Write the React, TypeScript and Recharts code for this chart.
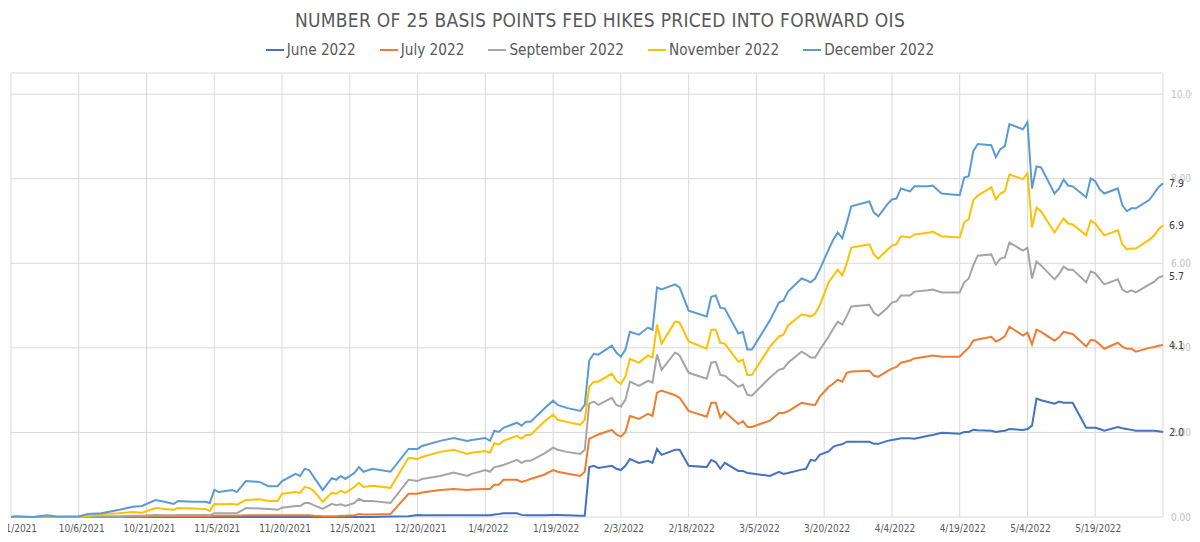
import { LineChart, Line, XAxis, YAxis, CartesianGrid } from "recharts";

const dates = [
  "9/21/2021", "9/22/2021", "9/26/2021", "9/29/2021", "10/1/2021", "10/6/2021", "10/8/2021", "10/11/2021", "10/15/2021", "10/18/2021",
  "10/20/2021", "10/23/2021", "10/25/2021", "10/27/2021", "10/28/2021", "10/31/2021", "11/3/2021", "11/4/2021", "11/5/2021", "11/6/2021",
  "11/9/2021", "11/10/2021", "11/12/2021", "11/15/2021", "11/17/2021", "11/19/2021", "11/20/2021", "11/23/2021", "11/24/2021", "11/25/2021",
  "11/26/2021", "11/27/2021", "11/29/2021", "12/1/2021", "12/2/2021", "12/3/2021", "12/4/2021", "12/6/2021", "12/7/2021", "12/8/2021",
  "12/10/2021", "12/14/2021", "12/18/2021", "12/20/2021", "12/21/2021", "12/25/2021", "12/28/2021", "12/31/2021", "1/1/2022", "1/4/2022",
  "1/5/2022", "1/6/2022", "1/7/2022", "1/8/2022", "1/11/2022", "1/12/2022", "1/13/2022", "1/14/2022", "1/17/2022", "1/19/2022",
  "1/20/2022", "1/22/2022", "1/25/2022", "1/26/2022", "1/27/2022", "1/28/2022", "1/29/2022", "2/1/2022", "2/2/2022", "2/3/2022",
  "2/4/2022", "2/5/2022", "2/7/2022", "2/9/2022", "2/10/2022", "2/11/2022", "2/12/2022", "2/15/2022", "2/16/2022", "2/18/2022",
  "2/22/2022", "2/23/2022", "2/24/2022", "2/25/2022", "2/26/2022", "3/1/2022", "3/2/2022", "3/3/2022", "3/4/2022", "3/8/2022",
  "3/10/2022", "3/11/2022", "3/12/2022", "3/15/2022", "3/16/2022", "3/17/2022", "3/18/2022", "3/19/2022", "3/21/2022", "3/22/2022",
  "3/23/2022", "3/24/2022", "3/25/2022", "3/26/2022", "3/30/2022", "3/31/2022", "4/1/2022", "4/3/2022", "4/4/2022", "4/5/2022",
  "4/6/2022", "4/8/2022", "4/9/2022", "4/12/2022", "4/13/2022", "4/15/2022", "4/19/2022", "4/20/2022", "4/21/2022", "4/22/2022",
  "4/23/2022", "4/26/2022", "4/27/2022", "4/28/2022", "4/29/2022", "4/30/2022", "5/3/2022", "5/4/2022", "5/5/2022", "5/6/2022",
  "5/7/2022", "5/10/2022", "5/11/2022", "5/12/2022", "5/13/2022", "5/14/2022", "5/17/2022", "5/18/2022", "5/19/2022", "5/20/2022",
  "5/21/2022", "5/24/2022", "5/25/2022", "5/26/2022", "5/27/2022", "5/28/2022", "5/31/2022", "6/1/2022", "6/2/2022", "6/3/2022",
];

const june2022 = [
  0, 0, 0, 0, 0, 0, 0, 0, 0, 0,
  0, 0, 0, 0, 0, 0, 0, 0, 0, 0,
  0, 0, 0, 0, 0, 0, 0, 0, 0, 0,
  0, 0, 0, 0, 0, 0, 0, 0, 0, 0,
  0, 0.01, 0.02, 0.05, 0.04, 0.04, 0.04, 0.04, 0.04, 0.04,
  0.04, 0.06, 0.07, 0.09, 0.09, 0.05, 0.04, 0.04, 0.04, 0.05,
  0.05, 0.04, 0.03, 0.03, 1.18, 1.21, 1.16, 1.21, 1.14, 1.11,
  1.21, 1.37, 1.28, 1.33, 1.28, 1.61, 1.47, 1.59, 1.59, 1.21,
  1.18, 1.35, 1.3, 1.14, 1.28, 1.09, 1.09, 1.04, 1.03, 0.97,
  1.07, 1.02, 1.04, 1.12, 1.14, 1.35, 1.33, 1.47, 1.55, 1.66,
  1.7, 1.72, 1.78, 1.78, 1.78, 1.73, 1.73, 1.8, 1.82, 1.84,
  1.86, 1.86, 1.85, 1.92, 1.94, 1.99, 1.97, 2.01, 2.01, 2.06,
  2.05, 2.04, 2.01, 2.03, 2.04, 2.08, 2.06, 2.08, 2.16, 2.8,
  2.76, 2.68, 2.73, 2.7, 2.7, 2.7, 2.11, 2.11, 2.11, 2.08,
  2.04, 2.13, 2.1, 2.08, 2.06, 2.04, 2.04, 2.04, 2.03, 2.01,
];

const july2022 = [
  0, 0, 0, 0, 0, 0, 0, 0, 0, 0.01,
  0.01, 0.02, 0.02, 0.02, 0.02, 0.02, 0.02, 0.02, 0.03, 0.03,
  0.03, 0.03, 0.04, 0.04, 0.04, 0.04, 0.04, 0.04, 0.04, 0.04,
  0.04, 0.03, 0.02, 0.02, 0.02, 0.03, 0.03, 0.04, 0.07, 0.06,
  0.06, 0.07, 0.55, 0.55, 0.58, 0.64, 0.66, 0.64, 0.65, 0.66,
  0.66, 0.76, 0.76, 0.88, 0.88, 0.83, 0.86, 0.9, 1.0, 1.11,
  1.07, 1.03, 0.97, 1.07, 1.85, 1.9, 1.95, 2.06, 1.95, 1.9,
  2.01, 2.39, 2.32, 2.44, 2.39, 2.94, 2.99, 2.88, 2.82, 2.51,
  2.37, 2.7, 2.7, 2.35, 2.49, 2.2, 2.27, 2.13, 2.13, 2.28,
  2.46, 2.46, 2.5, 2.7, 2.68, 2.66, 2.65, 2.84, 3.08, 3.15,
  3.25, 3.2, 3.41, 3.44, 3.46, 3.34, 3.32, 3.45, 3.51, 3.55,
  3.65, 3.7, 3.75, 3.8, 3.82, 3.79, 3.79, 3.9, 4.0, 4.17,
  4.2, 4.26, 4.15, 4.2, 4.27, 4.5, 4.29, 4.36, 4.08, 4.43,
  4.38, 4.17, 4.25, 4.38, 4.35, 4.33, 4.03, 4.19, 4.17, 4.08,
  3.98, 4.12, 4.03, 3.98, 3.98, 3.91, 4.0, 4.02, 4.05, 4.07,
];

const september2022 = [
  0, 0, 0, 0.01, 0, 0, 0.01, 0.02, 0.02, 0.03,
  0.03, 0.05, 0.04, 0.04, 0.05, 0.05, 0.05, 0.04, 0.09, 0.09,
  0.09, 0.09, 0.21, 0.2, 0.19, 0.17, 0.22, 0.26, 0.26, 0.33,
  0.33, 0.28, 0.19, 0.31, 0.28, 0.3, 0.26, 0.33, 0.43, 0.38,
  0.38, 0.33, 0.88, 0.85, 0.9, 0.97, 1.05, 0.97, 1.02, 1.11,
  1.07, 1.18, 1.2, 1.23, 1.35, 1.28, 1.33, 1.33, 1.5, 1.64,
  1.59, 1.54, 1.49, 1.59, 2.68, 2.73, 2.65, 2.82, 2.65, 2.61,
  2.77, 3.2, 3.1, 3.22, 3.18, 3.84, 3.48, 3.89, 3.82, 3.41,
  3.27, 3.65, 3.67, 3.36, 3.34, 3.08, 3.13, 2.89, 2.87, 3.3,
  3.48, 3.51, 3.65, 3.91, 3.85, 3.77, 3.77, 3.95, 4.27, 4.45,
  4.62, 4.55, 4.75, 4.98, 5.02, 4.83, 4.76, 4.95, 5.07, 5.1,
  5.24, 5.24, 5.33, 5.36, 5.38, 5.31, 5.31, 5.55, 5.64, 5.95,
  6.18, 6.21, 5.97, 6.11, 6.14, 6.49, 6.3, 6.37, 5.64, 6.04,
  5.95, 5.62, 5.75, 5.92, 5.85, 5.85, 5.55, 5.81, 5.76, 5.63,
  5.5, 5.62, 5.38, 5.31, 5.36, 5.31, 5.5, 5.56, 5.66, 5.7,
];

const november2022 = [
  0, 0, 0, 0.02, 0, 0, 0.02, 0.07, 0.09, 0.12,
  0.1, 0.21, 0.19, 0.17, 0.21, 0.2, 0.19, 0.14, 0.31, 0.3,
  0.31, 0.29, 0.4, 0.42, 0.38, 0.38, 0.55, 0.59, 0.57, 0.71,
  0.69, 0.62, 0.36, 0.57, 0.55, 0.62, 0.57, 0.71, 0.81, 0.71,
  0.74, 0.69, 1.4, 1.37, 1.42, 1.54, 1.59, 1.49, 1.52, 1.56,
  1.52, 1.75, 1.71, 1.8, 1.92, 1.85, 1.94, 1.94, 2.25, 2.42,
  2.3, 2.25, 2.18, 2.3, 3.08, 3.2, 3.2, 3.39, 3.22, 3.15,
  3.32, 3.74, 3.65, 3.82, 3.77, 4.55, 4.1, 4.62, 4.6, 4.15,
  3.98, 4.43, 4.43, 4.12, 4.1, 3.67, 3.72, 3.36, 3.36, 4.03,
  4.27, 4.31, 4.53, 4.79, 4.77, 4.74, 4.81, 5.0, 5.55, 5.7,
  5.85, 5.71, 6.0, 6.37, 6.45, 6.21, 6.11, 6.32, 6.42, 6.45,
  6.64, 6.61, 6.68, 6.72, 6.75, 6.64, 6.61, 6.97, 7.04, 7.49,
  7.6, 7.8, 7.51, 7.65, 7.7, 8.1, 7.99, 8.13, 6.85, 7.32,
  7.23, 6.73, 6.9, 7.06, 6.94, 6.92, 6.66, 7.01, 6.94, 6.8,
  6.66, 6.78, 6.45, 6.33, 6.35, 6.35, 6.56, 6.65, 6.8, 6.9,
];

const december2022 = [
  0, 0.02, 0, 0.04, 0.01, 0.01, 0.07, 0.09, 0.17, 0.24,
  0.26, 0.4, 0.36, 0.31, 0.38, 0.36, 0.36, 0.33, 0.64, 0.59,
  0.64, 0.59, 0.85, 0.83, 0.73, 0.73, 0.85, 1.02, 0.97, 1.14,
  1.11, 0.95, 0.64, 0.92, 0.88, 0.97, 0.9, 1.04, 1.18, 1.07,
  1.14, 1.07, 1.61, 1.61, 1.68, 1.8, 1.87, 1.8, 1.82, 1.87,
  1.8, 2.04, 2.01, 2.11, 2.23, 2.16, 2.25, 2.25, 2.56, 2.75,
  2.65, 2.58, 2.51, 2.65, 3.7, 3.86, 3.84, 4.05, 3.89, 3.79,
  3.96, 4.38, 4.31, 4.48, 4.43, 5.43, 5.38, 5.5, 5.43, 4.88,
  4.74, 5.21, 5.24, 4.95, 4.93, 4.34, 4.38, 3.96, 3.96, 4.65,
  5.07, 5.12, 5.33, 5.64, 5.6, 5.55, 5.64, 5.85, 6.33, 6.56,
  6.73, 6.59, 6.95, 7.35, 7.46, 7.2, 7.11, 7.4, 7.51, 7.53,
  7.77, 7.7, 7.82, 7.82, 7.84, 7.65, 7.61, 8.03, 8.06, 8.65,
  8.82, 8.79, 8.51, 8.7, 8.77, 9.29, 9.17, 9.34, 7.77, 8.29,
  8.27, 7.65, 7.77, 7.98, 7.84, 7.82, 7.56, 8.01, 7.94, 7.75,
  7.65, 7.77, 7.37, 7.23, 7.3, 7.3, 7.5, 7.65, 7.8, 7.89,
];

const tickDates = [
  "9/21/2021", "10/6/2021", "10/21/2021", "11/5/2021", "11/20/2021", "12/5/2021",
  "12/20/2021", "1/4/2022", "1/19/2022", "2/3/2022", "2/18/2022", "3/5/2022",
  "3/20/2022", "4/4/2022", "4/19/2022", "5/4/2022", "5/19/2022", "6/3/2022",
];

const yTicks = [0, 2, 4, 6, 8, 10];

const series = [
  { key: "jun", name: "June 2022", values: june2022, color: "#4472C4" },
  { key: "jul", name: "July 2022", values: july2022, color: "#ED7D31" },
  { key: "sep", name: "September 2022", values: september2022, color: "#A5A5A5" },
  { key: "nov", name: "November 2022", values: november2022, color: "#FFC000" },
  { key: "dec", name: "December 2022", values: december2022, color: "#5B9BD5" },
];

const FONT = "'Liberation Sans Narrow', 'DejaVu Sans Condensed', Roboto, sans-serif";
const BASE = Date.UTC(2021, 8, 21);
const DAY_MS = 86400000;

// days since 9/21/2021, so the x axis behaves like a date axis
function toDay(s: string) {
  const [m, d, y] = s.split("/").map(Number);
  return Math.round((Date.UTC(y, m - 1, d) - BASE) / DAY_MS);
}

const xTicks = tickDates.map(toDay);
const lastTick = xTicks[xTicks.length - 1];
const lastIndex = dates.length - 1;

const chartData = dates.map((d, i) => {
  const row: Record<string, number> = { day: toDay(d) };
  series.forEach((s) => {
    row[s.key] = s.values[i];
  });
  return row;
});

function EndLabel(props: any) {
  const { x, y, index, value } = props;
  if (index !== lastIndex) return null;
  return (
    <text x={x + 6} y={y} dy={4} fontSize={10.5} fill="#404040" fontFamily={FONT}>
      {Number(value).toFixed(1)}
    </text>
  );
}

export default function App() {
  return (
    <div style={{ position: "relative", width: 1200, height: 542, margin: -8, background: "#fff" }}>
      <div
        style={{
          position: "absolute",
          top: 9,
          left: 0,
          width: 1200,
          textAlign: "center",
          fontFamily: FONT,
          fontSize: 19,
          color: "#595959",
          letterSpacing: 0.3,
        }}
      >
        NUMBER OF 25 BASIS POINTS FED HIKES PRICED INTO FORWARD OIS
      </div>
      <div
        style={{
          position: "absolute",
          top: 41,
          left: 0,
          width: 1200,
          display: "flex",
          justifyContent: "center",
          gap: 24,
          fontFamily: FONT,
          fontSize: 15.2,
          color: "#595959",
        }}
      >
        {series.map((s) => (
          <div key={s.key} style={{ display: "flex", alignItems: "center" }}>
            <span style={{ display: "inline-block", width: 18, height: 2, background: s.color, marginRight: 3 }} />
            {s.name}
          </div>
        ))}
      </div>
      <LineChart
        width={1200}
        height={542}
        data={chartData}
        margin={{ top: 73, right: 5, left: 11, bottom: 0 }}
        style={{ position: "absolute", top: 0, left: 0 }}
      >
        <CartesianGrid stroke="#D9D9D9" />
        <XAxis
          dataKey="day"
          type="number"
          domain={[0, lastTick]}
          ticks={xTicks}
          interval={0}
          tickFormatter={(v) => (v === lastTick ? "" : tickDates[xTicks.indexOf(v)])}
          axisLine={false}
          tickLine={false}
          height={25}
          dx={3}
          tick={{ fill: "#595959", fontSize: 10, fontFamily: FONT }}
        />
        <YAxis
          orientation="right"
          type="number"
          domain={[0, 10.5]}
          ticks={yTicks}
          tickFormatter={(v) => Number(v).toFixed(2)}
          axisLine={false}
          tickLine={false}
          width={32}
          tick={{ fill: "#BFBFBF", fontSize: 10, fontFamily: FONT }}
        />
        {series.map((s) => (
          <Line
            key={s.key}
            type="linear"
            dataKey={s.key}
            name={s.name}
            stroke={s.color}
            strokeWidth={2}
            dot={false}
            label={<EndLabel />}
            isAnimationActive={false}
          />
        ))}
      </LineChart>
    </div>
  );
}
